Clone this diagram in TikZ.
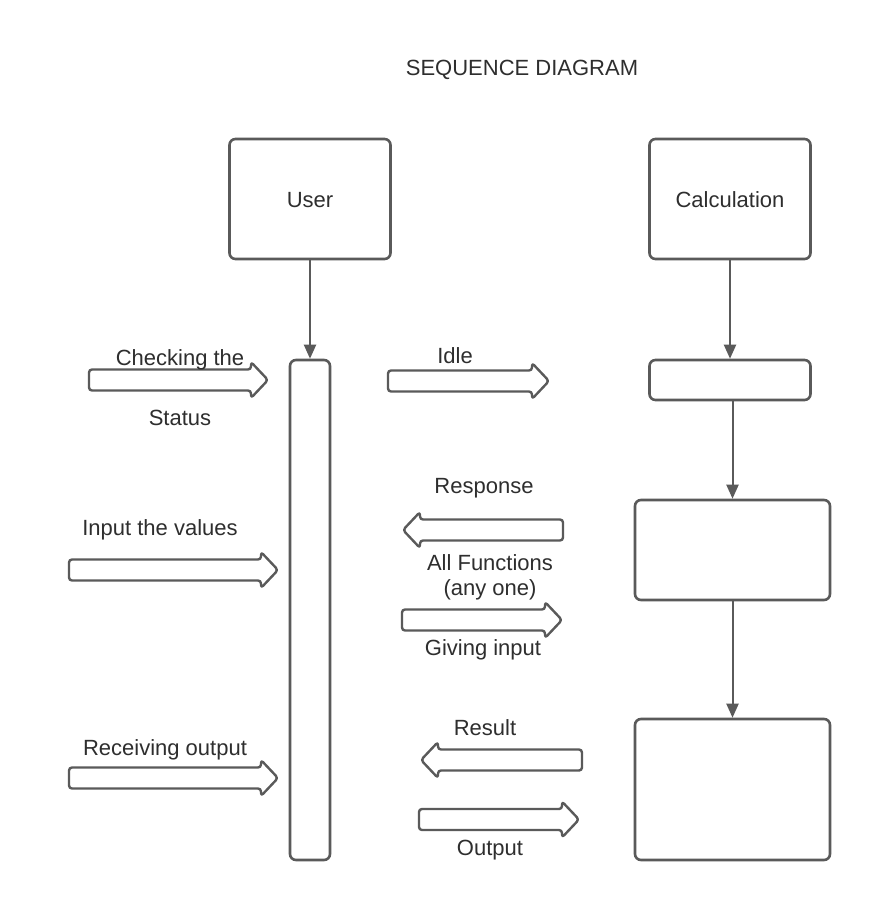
\documentclass[tikz,border=0pt]{standalone}
\usepackage{fontspec}
\setmainfont{Liberation Sans}
\usetikzlibrary{arrows.meta}
\definecolor{ln}{HTML}{5A5A5A}
\definecolor{tx}{HTML}{2E2E2E}
\tikzset{
  lbl/.style={text=tx, inner sep=0pt, anchor=base, font=\fontsize{22}{26}\selectfont},
  boxx/.style={draw=ln, line width=2.6pt, rounded corners=6pt, fill=white, inner sep=0pt},
  flow/.style={draw=ln, line width=2pt, -{Triangle[length=14pt,width=12pt]}},
  blk/.style={draw=ln, line width=2.4pt, rounded corners=3pt, line join=round}
}
% right block arrow: x1, x2, y
\newcommand{\rblk}[3]{\draw[blk] (#1,#3-10.5) -- (#2-17,#3-10.5) -- (#2-17,#3-18) -- (#2,#3) -- (#2-17,#3+18) -- (#2-17,#3+10.5) -- (#1,#3+10.5) -- cycle;}
% left block arrow: x1 (tip), x2, y
\newcommand{\lblk}[3]{\draw[blk] (#2,#3-10.5) -- (#1+17,#3-10.5) -- (#1+17,#3-18) -- (#1,#3) -- (#1+17,#3+18) -- (#1+17,#3+10.5) -- (#2,#3+10.5) -- cycle;}
\begin{document}
\begin{tikzpicture}[x=1pt,y=-1pt]
\useasboundingbox (0,0) rectangle (870,920);
\fill[white] (0,0) rectangle (870,920);

\node[lbl] (title) at (522,76) {SEQUENCE DIAGRAM};

% lifelines heads
\node[boxx, minimum width=161pt, minimum height=120pt] (user) at (310,199) {};
\node[lbl] (usert) at (310,207) {User};
\node[boxx, minimum width=161pt, minimum height=120pt] (calc) at (730,199) {};
\node[lbl] (calct) at (730,207) {Calculation};

% activation bars and boxes
\node[boxx, minimum width=40pt, minimum height=500pt] (ubar) at (310,610) {};
\node[boxx, minimum width=161pt, minimum height=40pt] (c1) at (730,380) {};
\node[boxx, minimum width=195pt, minimum height=100pt] (c2) at (732.5,550) {};
\node[boxx, minimum width=195pt, minimum height=141pt] (c3) at (732.5,789.5) {};

% connectors
\draw[flow] (user.south) -- (ubar.north);
\draw[flow] (calc.south) -- (c1.north);
\draw[flow] (c2.north |- c1.south) -- (c2.north);
\draw[flow] (c2.south) -- (c3.north);

% block arrows
\rblk{89}{268}{380}
\node[lbl] (l1) at (180,365) {Checking the};
\node[lbl] (l2) at (180,425) {Status};

\rblk{388}{549}{381}
\node[lbl] (l3) at (455,363) {Idle};

\node[lbl] (l4) at (484,493) {Response};
\lblk{403}{563}{530}
\node[lbl] (l5) at (160,535) {Input the values};
\rblk{69}{278}{570}

\node[lbl] (l6) at (490,570) {All Functions};
\node[lbl] (l7) at (490,595) {(any one)};
\rblk{402}{562}{620}
\node[lbl] (l8) at (483,655) {Giving input};

\node[lbl] (l9) at (485,735) {Result};
\lblk{421}{582}{760}
\node[lbl] (l10) at (165,755) {Receiving output};
\rblk{69}{278}{778}

\rblk{419}{579}{819.5}
\node[lbl] (l11) at (490,855) {Output};
\end{tikzpicture}
\end{document}
